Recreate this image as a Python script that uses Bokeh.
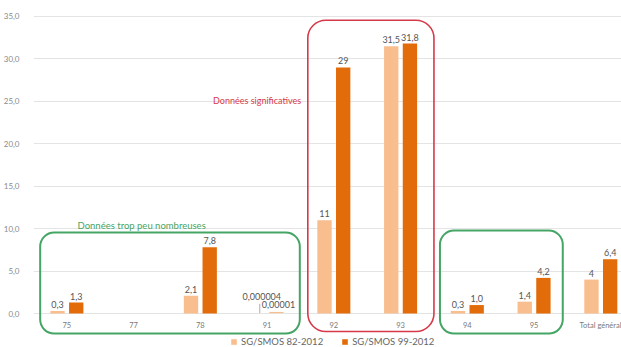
from bokeh.plotting import figure
from bokeh.models import (ColumnDataSource, FixedTicker, BoxAnnotation, Legend, LegendItem,
                          Label, LinearAxis, Range1d)
from bokeh.embed import file_html
from bokeh.resources import INLINE

# ---- data ----
categories = ["75", "77", "78", "91", "92", "93", "94", "95", "Total général"]
series_names = ["SG/SMOS 82-2012", "SG/SMOS 99-2012"]
values_82 = [0.3, 0, 2.1, 0.000004, 11, 31.5, 0.3, 1.4, 4]
values_99 = [1.3, 0, 7.8, 0.00001, 29, 31.8, 1.0, 4.2, 6.4]
labels_82 = ["0,3", "", "2,1", "0,000004", "11", "31,5", "0,3", "1,4", "4"]
labels_99 = ["1,3", "", "7,8", "0,00001", "29", "31,8", "1,0", "4,2", "6,4"]
y_ticks = [0, 5, 10, 15, 20, 25, 30, 35]

LIGHT = "#F9BE8E"
DARK = "#E36C0A"
GREEN = "#45A565"
RED = "#D63A4A"
FONT = "Lato"

idx = list(range(len(categories)))
off = 0.14
w = 0.215

p = figure(width=621, height=347, output_backend="svg", toolbar_location=None,
           x_range=Range1d(-0.5, 8.31), y_range=Range1d(-4.0, 36.88),
           min_border_left=33, min_border_right=0, min_border_top=0, min_border_bottom=0,
           x_axis_location=None)
p.outline_line_color = None
p.background_fill_color = "white"
p.border_fill_color = "white"

# y axis
p.yaxis.ticker = FixedTicker(ticks=y_ticks)
p.yaxis.major_label_overrides = {t: f"{t:.1f}".replace(".", ",") for t in y_ticks}
p.yaxis.axis_line_color = None
p.yaxis.major_tick_line_color = None
p.yaxis.minor_tick_line_color = None
p.yaxis.major_label_text_font = FONT
p.yaxis.major_label_text_font_size = "8px"
p.yaxis.major_label_text_color = "#8a8a8a"
p.yaxis.major_label_standoff = 8
p.ygrid.ticker = FixedTicker(ticks=y_ticks)
p.ygrid.grid_line_color = "#e4e4e4"
p.xgrid.grid_line_color = None

# x axis fixed at y=0 inside frame
xax = LinearAxis(fixed_location=0)
xax.ticker = FixedTicker(ticks=idx)
xax.major_label_overrides = {i: c for i, c in enumerate(categories)}
xax.axis_line_color = None
xax.major_tick_line_color = None
xax.major_tick_out = 0
xax.major_tick_in = 0
xax.minor_tick_line_color = None
xax.major_label_text_font = FONT
xax.major_label_text_font_size = "7.5px"
xax.major_label_text_color = "#7a7a7a"
xax.major_label_standoff = 7
p.add_layout(xax, "below")

src = ColumnDataSource(dict(
    x82=[i - off for i in idx], x99=[i + off for i in idx],
    v82=values_82, v99=values_99, l82=labels_82, l99=labels_99,
    dx82=[0, 0, 0, 4, 0, 0, 0, 0, 0], dy82=[-3, -3, -3, -14, -3, -3, -3, -3, -3],
    dx99=[0, 0, 0, 2, 0, 0, 0, 0, 0], dy99=[-3, -3, -3, -6, -3, -3, -3, -3, -3],
))

r1 = p.vbar(x="x82", top="v82", width=w, fill_color=LIGHT, line_color=None, source=src)
r2 = p.vbar(x="x99", top="v99", width=w, fill_color=DARK, line_color=None, source=src)

p.text(x="x82", y="v82", text="l82", x_offset="dx82", y_offset="dy82", source=src,
       text_align="center", text_baseline="bottom", text_font_size="9px",
       text_color="#555555", text_font={"value": FONT})
p.text(x="x99", y="v99", text="l99", x_offset="dx99", y_offset="dy99", source=src,
       text_align="center", text_baseline="bottom", text_font_size="9px",
       text_color="#555555", text_font={"value": FONT})

# leader line for 91
p.segment(x0=[3 - off + 0.03], y0=[0.05], x1=[3 - off + 0.03], y1=[1.15],
          line_color="#999999", line_width=0.8)
# tiny visible stub for the 91 series-2 value
p.segment(x0=[3 + off - w / 2], y0=[0.12], x1=[3 + off + w / 2], y1=[0.12],
          line_color=LIGHT, line_width=1.2)

# highlight boxes
for (l, r, b, t, c, lw, rad) in [(-0.40, 3.49, -2.36, 9.55, GREEN, 2, 14),
                                 (3.61, 5.50, -2.12, 34.55, RED, 1.6, 18),
                                 (5.59, 7.43, -2.36, 9.78, GREEN, 2, 14)]:
    p.add_layout(BoxAnnotation(left=l, right=r, bottom=b, top=t,
                               fill_color=None, fill_alpha=0, line_color=c, line_alpha=1,
                               line_width=lw, border_radius=rad, level="overlay"))

p.add_layout(Label(x=1.12, y=10.4, text="Données trop peu nombreuses", text_align="center",
                   text_baseline="middle", text_font=FONT, text_font_size="9.5px",
                   text_color=GREEN))
p.add_layout(Label(x=2.85, y=25.1, text="Données significatives", text_align="center",
                   text_baseline="middle", text_font=FONT, text_font_size="9px",
                   text_color=RED))

legend = Legend(items=[LegendItem(label=series_names[0], renderers=[r1]),
                       LegendItem(label=series_names[1], renderers=[r2])],
                orientation="horizontal", location=(197, 0),
                glyph_width=7, glyph_height=7, label_text_font=FONT,
                label_text_font_size="9.5px", label_text_color="#666666",
                background_fill_alpha=0, border_line_color=None,
                padding=0, margin=0, spacing=18, label_standoff=4, label_height=10)
p.add_layout(legend, "center")

open("out.html", "w").write(file_html(p, INLINE))
